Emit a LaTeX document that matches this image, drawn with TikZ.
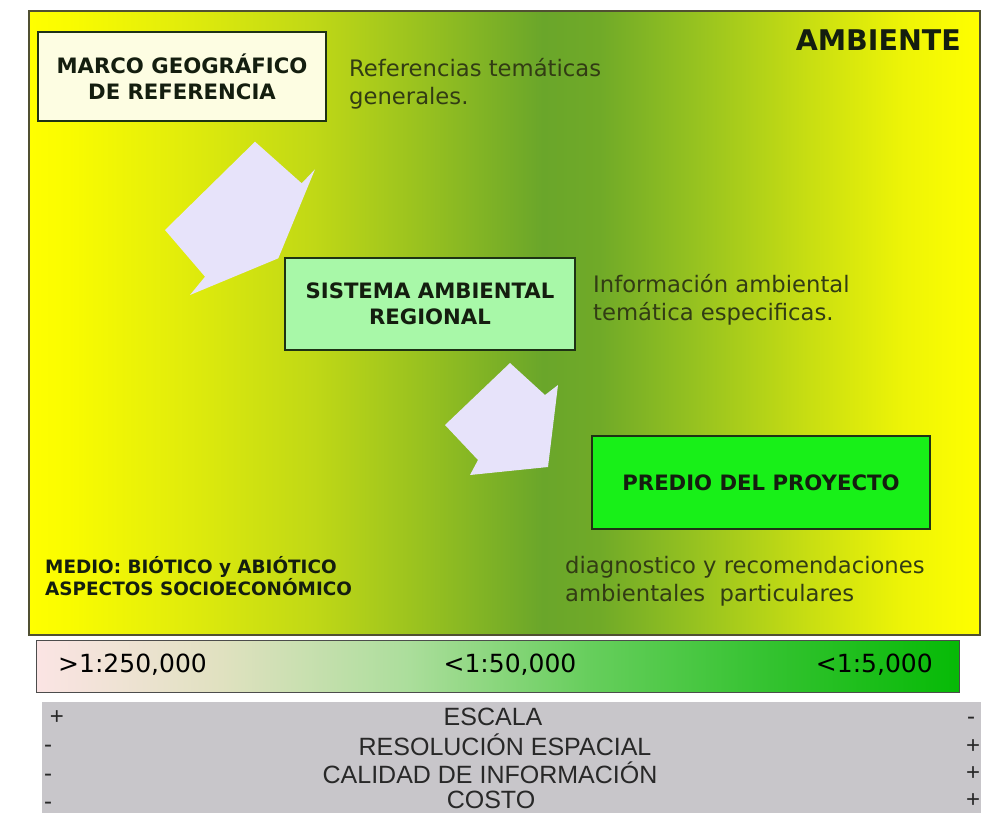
\documentclass[tikz,border=0pt]{standalone}
\usepackage{fontspec}
\newfontfamily\dv{DejaVu Sans}
\newfontfamily\lib{Liberation Sans}
\definecolor{amb0}{RGB}{255,255,0}
\definecolor{amb1}{RGB}{250,252,0}
\definecolor{amb2}{RGB}{228,238,10}
\definecolor{amb3}{RGB}{192,216,22}
\definecolor{amb4}{RGB}{150,192,32}
\definecolor{amb5}{RGB}{106,166,42}
\definecolor{amb6}{RGB}{112,170,40}
\definecolor{amb7}{RGB}{150,194,32}
\definecolor{amb8}{RGB}{200,222,18}
\definecolor{amb9}{RGB}{238,244,6}
\definecolor{sc0}{RGB}{251,228,228}
\definecolor{sc1}{RGB}{224,225,192}
\definecolor{sc2}{RGB}{172,222,156}
\definecolor{sc3}{RGB}{102,206,92}
\definecolor{sc4}{RGB}{50,194,46}
\definecolor{sc5}{RGB}{6,186,6}
\definecolor{frame}{RGB}{80,80,50}
\definecolor{boxline}{RGB}{30,50,20}
\definecolor{boxtext}{RGB}{20,30,15}
\definecolor{sidetext}{RGB}{50,60,20}
\definecolor{marcofill}{RGB}{253,253,226}
\definecolor{sistfill}{RGB}{168,248,168}
\definecolor{prediofill}{RGB}{24,240,24}
\definecolor{arrowfill}{RGB}{231,227,250}
\definecolor{tablefill}{RGB}{200,198,202}
\definecolor{tabletext}{RGB}{40,40,40}
\pgfdeclarehorizontalshading{ambshade}{100bp}{color(0bp)=(amb0); color(25bp)=(amb0); color(27bp)=(amb1); color(32.5bp)=(amb2); color(40bp)=(amb3); color(46bp)=(amb4); color(52bp)=(amb5); color(55bp)=(amb6); color(60bp)=(amb7); color(66bp)=(amb8); color(71bp)=(amb9); color(75bp)=(amb0); color(100bp)=(amb0)}
\pgfdeclarehorizontalshading{scaleshade}{100bp}{color(0bp)=(sc0); color(25bp)=(sc0); color(35bp)=(sc1); color(45bp)=(sc2); color(55bp)=(sc3); color(65bp)=(sc4); color(75bp)=(sc5); color(100bp)=(sc5)}
\begin{document}
\begin{tikzpicture}[x=1pt,y=-1pt,
  boxnode/.style={font=\dv\bfseries\fontsize{21.2}{26}\selectfont, text=boxtext, align=center, draw=boxline, line width=1.8pt, inner sep=0pt},
  sidetxt/.style={font=\dv\fontsize{22.7}{28.5}\selectfont, text=sidetext, align=left, anchor=west, inner sep=0pt},
  blockarrow/.style={fill=arrowfill, draw=none},
  scaletxt/.style={font=\dv\fontsize{25}{30}\selectfont, text=black, inner sep=0pt},
  tabtxt/.style={font=\lib\fontsize{25}{28}\selectfont, text=tabletext, inner sep=0pt},
  signtxt/.style={font=\lib\fontsize{24}{26}\selectfont, text=tabletext, inner sep=0pt, text height=12pt, text depth=0pt}]
\useasboundingbox (0,0) rectangle (986,823);
\fill[white] (0,0) rectangle (986,823);
% main frame
\node[draw=frame, line width=1.6pt, shading=ambshade, minimum width=951pt, minimum height=624pt, inner sep=0pt, anchor=north west] (amb) at (28,10) {};
\node[font=\dv\bfseries\fontsize{28.5}{30}\selectfont, text=boxtext, anchor=east, inner sep=0pt] (ambt) at (961,40) {AMBIENTE};
% boxes
\node[boxnode, fill=marcofill, minimum width=288pt, minimum height=89pt] (marco) at (182,76.5) {MARCO GEOGRÁFICO\\DE REFERENCIA};
\node[boxnode, fill=sistfill, minimum width=290pt, minimum height=92pt] (sist) at (430,304) {SISTEMA AMBIENTAL\\REGIONAL};
\node[boxnode, fill=prediofill, minimum width=338pt, minimum height=93pt] (predio) at (761,482.5) {PREDIO DEL PROYECTO};
% side texts
\node[sidetxt] (ref) at (349,84) {Referencias temáticas\\generales.};
\node[sidetxt] (info) at (593,300) {Información ambiental\\temática especificas.};
\node[sidetxt] (diag) at (565,581) {diagnostico y recomendaciones\\ambientales\ \ particulares};
\node[font=\dv\bfseries\fontsize{18.4}{21}\selectfont, text=boxtext, align=left, anchor=west, inner sep=0pt] (medio) at (45,576) {MEDIO: BIÓTICO y ABIÓTICO\\ASPECTOS SOCIOECONÓMICO};
% block arrows
\fill[blockarrow] (255,141.7) -- (301.7,183.3) -- (315,169.3) -- (278.3,258.3) -- (190,295) -- (205,276.7) -- (165,230) -- cycle;
\fill[blockarrow] (510,363) -- (545,395) -- (558,385) -- (548,467) -- (470,475) -- (478,460) -- (445,425) -- cycle;
% scale bar
\node[draw=black!70, line width=1.4pt, shading=scaleshade, minimum width=923pt, minimum height=52pt, inner sep=0pt, anchor=north west] (scale) at (36,640) {};
\node[scaletxt, anchor=west] (s1) at (58,665) {>1:250,000};
\node[scaletxt] (s2) at (510,665) {<1:50,000};
\node[scaletxt, anchor=east] (s3) at (933,665) {<1:5,000};
% table
\node[fill=tablefill, minimum width=939pt, minimum height=111pt, inner sep=0pt, anchor=north west] (tab) at (42,702) {};
\node[tabtxt] (r1) at (493,717) {ESCALA};
\node[tabtxt] (r2) at (505,745) {RESOLUCIÓN ESPACIAL};
\node[tabtxt] (r3) at (490,773) {CALIDAD DE INFORMACIÓN};
\node[tabtxt] (r4) at (491,800) {COSTO};
\node[signtxt] (l1) at (57,718) {+};
\node[signtxt] (l2) at (48,746) {-};
\node[signtxt] (l3) at (48,775) {-};
\node[signtxt] (l4) at (48,803) {-};
\node[signtxt] (e1) at (971,718) {-};
\node[signtxt] (e2) at (973,747) {+};
\node[signtxt] (e3) at (973,774) {+};
\node[signtxt] (e4) at (973,801) {+};
\end{tikzpicture}
\end{document}
